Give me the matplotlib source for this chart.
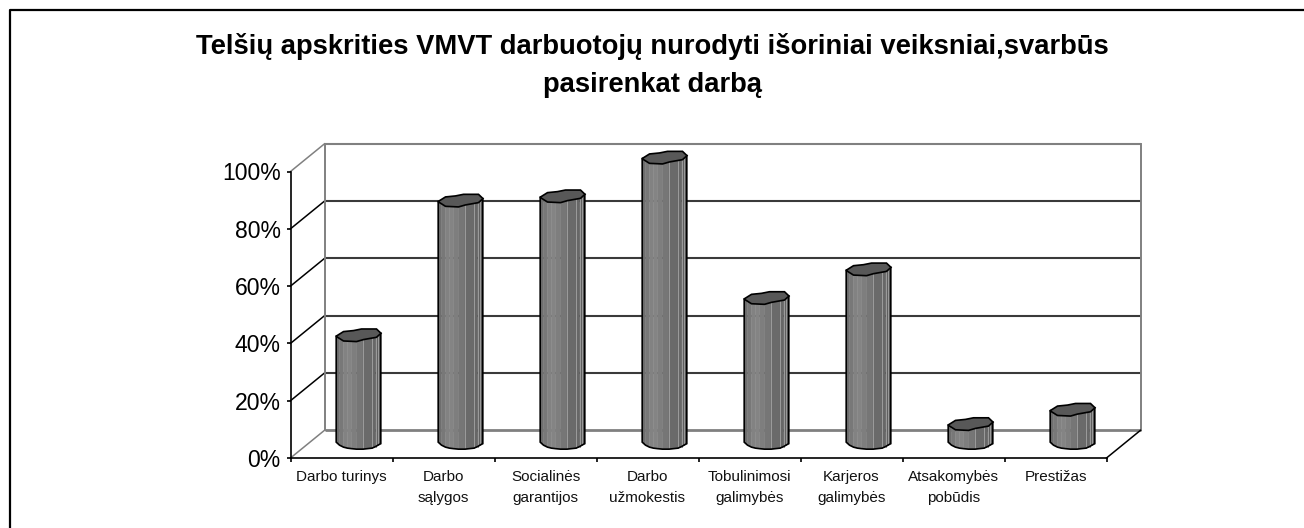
import matplotlib
matplotlib.use("Agg")
import matplotlib.pyplot as plt
from matplotlib.patches import Polygon
from matplotlib.lines import Line2D
from matplotlib.ticker import FuncFormatter

plt.rcParams['font.family'] = ['Liberation Sans', 'DejaVu Sans']

TITLE = "Telšių apskrities VMVT darbuotojų nurodyti išoriniai veiksniai,svarbūs\npasirenkat darbą"
categories = ["Darbo turinys", "Darbo\nsąlygos", "Socialinės\ngarantijos", "Darbo\nužmokestis",
              "Tobulinimosi\ngalimybės", "Karjeros\ngalimybės", "Atsakomybės\npobūdis", "Prestižas"]
values = [38, 85, 86.5, 100, 51, 61, 7, 12]
y_ticks = [0, 20, 40, 60, 80, 100]

W, H = 1304, 528
fig = plt.figure(figsize=(W / 100, H / 100), dpi=100, facecolor="white")
fig.add_artist(Line2D([9.5 / W, 9.5 / W, 1.0], [0, 1 - 10 / H, 1 - 10 / H], transform=fig.transFigure,
                      color="black", lw=1.6))

L, R, T, B = 290.5, 1106.5, 171.5, 458
ax = fig.add_axes([L / W, 1 - B / H, (R - L) / W, (B - T) / H])
ax.set_xlim(0, len(categories))
ax.set_ylim(0, 100)
ax.patch.set_visible(False)

PXX = len(categories) / (R - L)
PXY = 100 / (B - T)
DX, DY = 34 * PXX, 27.7 * PXY

xn = len(categories)
for v in y_ticks:
    c = "#808080" if v in (0, 100) else "#3a3a3a"
    lw = 2.0 if v == 0 else 1.5
    ax.plot([DX, xn + DX], [v + DY, v + DY], color=c, lw=lw, clip_on=False, zorder=1, solid_capstyle="butt")
    ax.plot([0, DX], [v, v + DY], color="#808080" if v in (0, 100) else "black", lw=1.1, clip_on=False, zorder=1)
ax.plot([DX, DX], [DY, 100 + DY], color="#808080", lw=1.4, clip_on=False, zorder=1)
ax.plot([xn + DX, xn + DX], [DY, 100 + DY], color="#808080", lw=1.4, clip_on=False, zorder=1)
ax.plot([xn, xn + DX], [0, DY], color="black", lw=1.1, clip_on=False, zorder=1)

# column shape: strips across the width (pixel offsets from the column axis)
edges = [-22.3, -19, -15, -11, -7, -2, 4.5, 13.5, 17, 19.5, 22.3]
shades = ["#6e6e6e", "#787878", "#828282", "#848484", "#7e7e7e", "#767676",
          "#6a6a6a", "#676767", "#626262", "#575757"]
bot_curve = [2, -1, -3, -4, -4.5, -5, -5, -4, -2.5, -1, 0.5]
top_curve = [0, -2, -3.5, -4.5, -5, -5.5, -4.5, -3, -2, -1, 2]
light_lines = {4.5, 13.5, 17, 19.5}
top_shape = [(-22.5, -1), (-15, 3.7), (-5, 4.7), (3, 6.3), (18, 6.3), (22.5, 2),
             (18, -2), (5, -4.3), (-2, -6.3), (-15, -5.7)]

for i, v in enumerate(values):
    cx = i + 0.5 + DX / 2
    y0, y1 = DY / 2, v + DY / 2
    for j, shade in enumerate(shades):
        a, b = edges[j], edges[j + 1]
        pts = [(cx + a * PXX, y0 + bot_curve[j] * PXY), (cx + b * PXX, y0 + bot_curve[j + 1] * PXY),
               (cx + b * PXX, y1 + top_curve[j + 1] * PXY), (cx + a * PXX, y1 + top_curve[j] * PXY)]
        ax.add_patch(Polygon(pts, closed=True, fc=shade, ec=shade, lw=0.3, zorder=3, clip_on=False))
        if b in light_lines:
            ax.plot([cx + b * PXX] * 2, [y0 + bot_curve[j + 1] * PXY, y1 + top_curve[j + 1] * PXY],
                    color="#9c9c9c", lw=0.7, zorder=3.5, clip_on=False)
    outline = [(cx + e * PXX, y0 + c * PXY) for e, c in zip(edges, bot_curve)]
    outline += [(cx + edges[-1] * PXX, y1 + 2 * PXY), (cx + edges[0] * PXX, y1 - 1 * PXY)]
    ax.add_patch(Polygon(outline, closed=True, fc="none", ec="black", lw=1.2, zorder=4, clip_on=False))
    top = [(cx + x * PXX, y1 + y * PXY) for x, y in top_shape]
    ax.add_patch(Polygon(top, closed=True, fc="#585858", ec="black", lw=1.2, zorder=5, clip_on=False))

for s in ("top", "right"):
    ax.spines[s].set_visible(False)
for s in ("left", "bottom"):
    ax.spines[s].set_linewidth(1.2)
    ax.spines[s].set_zorder(6)

ax.set_yticks(y_ticks)
ax.yaxis.set_major_formatter(FuncFormatter(lambda v, _: f"{v:.0f}%"))
ax.tick_params(axis="y", labelsize=16.6, length=3, width=1.2, pad=4, colors="black")
ax.set_xticks(range(len(categories) + 1))
ax.set_xticklabels([""] * (len(categories) + 1))
ax.tick_params(axis="x", length=3, width=1.2, direction="out")
for i, c in enumerate(categories):
    ax.annotate(c, (i + 0.5, 0), xytext=(0, -8.5), textcoords="offset points", ha="center", va="top",
                fontsize=11, linespacing=1.65, color="#111111", annotation_clip=False)

fig.text(652.5 / W, 1 - 65.5 / H, TITLE, ha="center", va="center", fontsize=19.68, fontweight="bold",
         linespacing=1.57, color="black")

fig.savefig("out.png", dpi=100)
